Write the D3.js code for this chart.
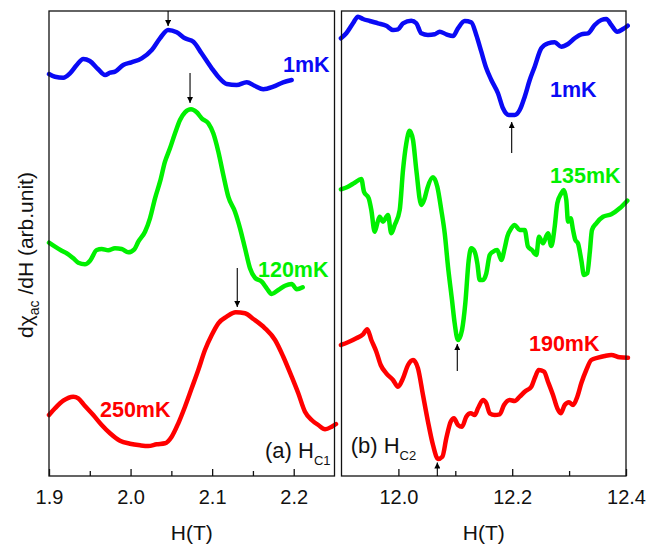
<!DOCTYPE html>
<html>
<head>
<meta charset="utf-8">
<script src="https://cdn.jsdelivr.net/npm/d3@7"></script>
<style>
  html, body { margin: 0; padding: 0; background: #fff; }
  svg { display: block; font-family: "Liberation Sans", Arial, sans-serif; }
</style>
</head>
<body>
<svg id="chart" width="668" height="546"></svg>
<script>
// ---------- DATA ----------
// Panel (a): H_C1, x = H (T), y = dchi/dH (arb. unit, offset curves)
const a1mK = [[1.900,40.2],[1.9074,39.93],[1.9175,39.83],[1.9257,40.27],[1.934,41.1],[1.942,41.7],[1.950,41.5],[1.960,40.7],[1.9687,40.1],[1.975,40.33],[1.981,40.43],[1.991,41.1],[2.001,41.37],[2.0136,41.77],[2.026,42.6],[2.036,43.77],[2.046,44.6],[2.0566,44.37],[2.0667,43.77],[2.077,43.43],[2.087,42.27],[2.0995,40.77],[2.1075,39.93],[2.118,39.2],[2.130,39.1],[2.1424,39.37],[2.1525,39.0],[2.1627,38.67],[2.175,38.93],[2.187,39.37],[2.1975,39.6]];
const a120mK = [[1.900,23.33],[1.9074,22.93],[1.9156,22.53],[1.9237,22.17],[1.9298,21.77],[1.9359,21.33],[1.9441,21.17],[1.9503,21.53],[1.9585,22.6],[1.9646,22.7],[1.9727,22.57],[1.9809,22.77],[1.9891,22.7],[1.9972,22.37],[2.0046,22.67],[2.0095,23.43],[2.0177,24.43],[2.0238,25.77],[2.030,27.77],[2.0361,29.43],[2.0422,31.43],[2.0483,32.77],[2.0545,34.27],[2.0606,35.6],[2.0667,36.37],[2.0741,36.67],[2.0811,36.37],[2.0872,35.77],[2.0953,35.27],[2.1014,34.27],[2.1076,32.43],[2.1137,30.1],[2.1198,27.93],[2.128,26.43],[2.1342,24.77],[2.1403,22.77],[2.1464,20.77],[2.1525,19.83],[2.1608,19.43],[2.1669,18.77],[2.173,18.2],[2.1811,18.6],[2.1893,19.03],[2.1975,19.2],[2.2037,18.67],[2.211,18.87]];
const a250mK = [[1.900,6.1],[1.9074,6.77],[1.9175,7.53],[1.9298,7.93],[1.9359,7.77],[1.9441,7.0],[1.9543,6.1],[1.9646,5.1],[1.9748,4.27],[1.987,3.53],[1.9993,3.23],[2.0116,3.07],[2.0217,3.0],[2.032,3.17],[2.0422,3.27],[2.0504,3.93],[2.0585,5.27],[2.0667,6.93],[2.0749,8.77],[2.083,10.6],[2.0912,12.6],[2.0995,14.1],[2.1076,15.27],[2.1178,15.93],[2.1289,16.37],[2.1403,16.27],[2.1505,15.7],[2.1648,14.77],[2.1771,13.6],[2.1872,11.93],[2.1975,9.93],[2.2056,8.27],[2.2138,6.43],[2.222,5.6],[2.2301,5.1],[2.2384,4.67],[2.2466,4.93],[2.2518,5.2]];

// Panel (b): H_C2
const b1mK = [[11.899,43.77],[11.9084,44.27],[11.9202,45.27],[11.929,45.93],[11.9378,45.7],[11.9496,45.5],[11.9641,45.27],[11.9787,45.03],[11.9905,44.6],[11.9993,44.67],[12.0081,45.27],[12.0227,45.53],[12.0315,45.27],[12.0402,44.27],[12.052,44.1],[12.0638,44.17],[12.0726,44.43],[12.0842,44.17],[12.096,44.0],[12.1047,44.77],[12.1165,45.5],[12.1281,45.37],[12.1369,44.1],[12.1457,42.43],[12.1545,40.77],[12.1633,39.6],[12.175,38.27],[12.1838,36.77],[12.1939,36.1],[12.2044,36.1],[12.2132,36.6],[12.222,37.93],[12.2308,39.6],[12.2395,40.93],[12.2511,42.77],[12.2629,43.27],[12.2747,43.37],[12.2863,42.93],[12.2981,43.2],[12.3098,43.77],[12.3214,44.17],[12.3332,44.27],[12.345,45.1],[12.3566,45.6],[12.3654,45.7],[12.3742,45.1],[12.3847,44.43],[12.3948,44.7],[12.403,45.03]];
const b135mK = [[11.899,28.67],[11.9114,28.93],[11.9232,29.33],[11.9348,29.7],[11.9395,28.43],[11.9478,27.77],[11.9524,26.6],[11.9583,24.43],[11.9629,25.27],[11.9671,25.93],[11.9729,25.43],[11.9817,26.1],[11.9875,24.27],[11.9935,25.1],[12.0023,26.6],[12.0081,30.6],[12.0139,33.27],[12.0199,34.53],[12.0257,33.6],[12.0315,30.6],[12.0402,27.1],[12.0462,27.77],[12.0508,28.77],[12.0608,29.87],[12.0684,28.93],[12.0754,26.6],[12.0814,24.27],[12.0872,20.93],[12.0942,17.6],[12.0989,15.27],[12.1047,13.6],[12.1118,14.6],[12.1176,17.27],[12.1236,21.6],[12.1281,22.77],[12.1341,22.43],[12.1387,21.27],[12.1429,19.6],[12.1487,19.6],[12.1545,20.27],[12.1605,22.1],[12.1663,22.43],[12.1738,22.6],[12.1808,21.6],[12.1868,22.77],[12.1914,23.93],[12.1984,24.77],[12.2044,25.1],[12.2132,24.6],[12.222,24.6],[12.2278,22.93],[12.2348,22.6],[12.2424,22.1],[12.2471,23.93],[12.2541,23.27],[12.2629,24.27],[12.2687,23.0],[12.2747,24.93],[12.2793,27.27],[12.2863,28.27],[12.2905,28.6],[12.2951,27.6],[12.2981,25.43],[12.3028,25.77],[12.3069,24.6],[12.3109,23.6],[12.3156,23.27],[12.3214,21.6],[12.3262,20.1],[12.332,20.27],[12.3362,22.27],[12.3402,24.6],[12.3478,25.27],[12.3596,25.93],[12.3742,26.17],[12.3889,26.77],[12.4023,27.53]];
const b190mK = [[11.899,13.1],[11.9114,13.37],[11.926,13.77],[11.9378,14.17],[11.9453,14.67],[11.9524,13.6],[11.9612,12.43],[11.9689,11.1],[11.9787,10.27],[11.9905,9.6],[11.9993,8.93],[12.0081,9.77],[12.0169,11.1],[12.0257,11.6],[12.0344,10.77],[12.0432,8.1],[12.052,5.43],[12.0608,3.1],[12.0696,1.7],[12.0772,1.93],[12.0842,3.77],[12.0919,5.43],[12.0977,5.77],[12.1047,5.1],[12.1118,4.93],[12.1193,5.93],[12.1271,6.27],[12.1341,6.1],[12.1399,6.77],[12.1487,7.6],[12.1545,7.27],[12.1605,6.27],[12.1692,6.1],[12.178,6.17],[12.1856,7.1],[12.1956,7.6],[12.2044,7.5],[12.2132,7.93],[12.222,8.43],[12.2336,8.93],[12.2406,9.93],[12.2466,10.6],[12.2559,10.43],[12.2629,9.43],[12.2717,8.1],[12.2793,6.77],[12.2852,6.27],[12.2923,7.1],[12.2998,7.37],[12.3069,7.1],[12.3144,7.93],[12.3214,9.27],[12.3302,10.6],[12.339,11.6],[12.3508,11.83],[12.3626,12.0],[12.3742,12.1],[12.3889,11.87],[12.4035,11.83]];

// Tick values
const aMajorTicks = [1.9, 2.0, 2.1, 2.2];
const aMinorTicks = [1.95, 2.05, 2.15];
const bMajorTicks = [12.0, 12.2, 12.4];
const bMinorTicks = [12.1, 12.3];

// Series labels: [text, H, y]
const aLabels = [["1mK", 2.1869, 40.4], ["120mK", 2.1562, 19.9], ["250mK", 1.9625, 5.93]];
const bLabels = [["1mK", 12.2665, 37.93], ["135mK", 12.2665, 29.33], ["190mK", 12.2295, 12.53]];
// Arrows: [H, tail y, head y]
const aArrows = [[2.046, 46.5, 45.0], [2.0729, 40.3, 37.3], [2.1308, 20.8, 16.9]];
const bArrows = [[12.1991, 32.3, 35.4], [12.1035, 10.5, 13.2], [12.0684, 0.0, 1.35]];

// ---------- DRAWING ----------
const colors = ["#0a0af5", "#00f000", "#ff0000"];
const svg = d3.select("#chart");
const y = d3.scaleLinear([0, 46.5], [476, 11]);
const xA = d3.scaleLinear([1.9, 2.25], [49, 334.5]);
const xB = d3.scaleLinear([11.9, 12.4], [341.5, 626]);

svg.append("defs").append("marker")
  .attr("id", "head").attr("viewBox", "0 0 10 10")
  .attr("refX", 10).attr("refY", 5)
  .attr("markerUnits", "userSpaceOnUse")
  .attr("markerWidth", 9).attr("markerHeight", 6)
  .attr("orient", "auto")
  .append("path").attr("d", "M0,0L10,5L0,10Z").attr("fill", "#000");

function panel(x, series, major, minor, labels, arrows, tag, sub) {
  const g = svg.append("g");
  const [x0, x1] = x.range();
  const line = d3.line().x(d => x(d[0])).y(d => y(d[1])).curve(d3.curveMonotoneX);
  series.forEach((s, i) => {
    g.append("path").datum(s).attr("d", line)
      .attr("fill", "none").attr("stroke", colors[i])
      .attr("stroke-width", 4.5).attr("stroke-linejoin", "round").attr("stroke-linecap", "round");
  });
  // frame
  g.append("rect").attr("x", x0).attr("y", y.range()[1])
    .attr("width", x1 - x0).attr("height", y.range()[0] - y.range()[1])
    .attr("fill", "none").attr("stroke", "#111").attr("stroke-width", 1.3);
  // axes
  const ax = g.append("g").attr("transform", `translate(0,${y(0)})`)
    .call(d3.axisBottom(x).tickValues(major).tickSizeInner(-7).tickSizeOuter(0)
      .tickPadding(14).tickFormat(d3.format(".1f")));
  ax.select(".domain").remove();
  ax.selectAll("line").attr("stroke", "#111").attr("stroke-width", 1.3);
  ax.selectAll("text").attr("font-size", 20).attr("fill", "#111")
    .attr("font-family", "Liberation Sans, Arial, sans-serif");
  const mi = g.append("g").attr("transform", `translate(0,${y(0)})`)
    .call(d3.axisBottom(x).tickValues(minor).tickSizeInner(-5).tickSizeOuter(0).tickFormat(""));
  mi.select(".domain").remove();
  mi.selectAll("line").attr("stroke", "#111").attr("stroke-width", 1.3);
  // axis title
  g.append("text").attr("x", (x0 + x1) / 2).attr("y", 540).attr("text-anchor", "middle")
    .attr("font-size", 21).attr("fill", "#111").text("H(T)");
  // labels
  labels.forEach((l, i) => {
    g.append("text").attr("x", x(l[1])).attr("y", y(l[2]))
      .attr("font-size", 21.5).attr("font-weight", "bold").attr("fill", colors[i]).text(l[0]);
  });
  // arrows
  arrows.forEach(a => {
    g.append("line").attr("x1", x(a[0])).attr("x2", x(a[0]))
      .attr("y1", y(a[1])).attr("y2", y(a[2]))
      .attr("stroke", "#000").attr("stroke-width", 1.1).attr("marker-end", "url(#head)");
  });
  // panel tag
  const t = g.append("text").attr("x", x(tag[1])).attr("y", y(tag[2]))
    .attr("font-size", 22).attr("fill", "#111");
  t.append("tspan").text(tag[0]);
  t.append("tspan").attr("font-size", 13).attr("dy", 7).text(sub);
}

panel(xA, [a1mK, a120mK, a250mK], aMajorTicks, aMinorTicks, aLabels, aArrows, ["(a) H", 2.1648, 1.8], "C1");
panel(xB, [b1mK, b135mK, b190mK], bMajorTicks, bMinorTicks, bLabels, bArrows, ["(b) H", 11.9162, 2.33], "C2");

// y-axis title
const yt = svg.append("text").attr("transform", "translate(33,255) rotate(-90)")
  .attr("text-anchor", "middle").attr("font-size", 21).attr("fill", "#111");
yt.append("tspan").text("dχ");
yt.append("tspan").attr("font-size", 14).attr("dy", 6).text("ac");
yt.append("tspan").attr("dy", -6).text(" /dH (arb.unit)");
</script>
</body>
</html>
